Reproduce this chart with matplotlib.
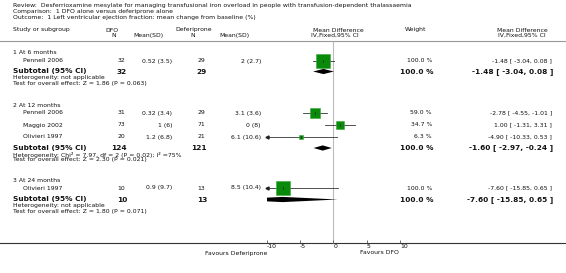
import numpy as np
import matplotlib
matplotlib.use("Agg")
import matplotlib.pyplot as plt

# ---- data -------------------------------------------------------------
review = "Review:  Desferrioxamine mesylate for managing transfusional iron overload in people with transfusion-dependent thalassaemia"
comparison = "Comparison:  1 DFO alone versus deferiprone alone"
outcome = "Outcome:  1 Left ventricular ejection fraction: mean change from baseline (%)"

groups = ["1 At 6 months", "2 At 12 months", "3 At 24 months"]

study_names = ["Pennell 2006", "Pennell 2006", "Maggio 2002", "Olivieri 1997", "Olivieri 1997"]
study_group = [0, 1, 1, 1, 2]
dfo_n = [32, 31, 73, 20, 10]
dfo_mean_sd = ["0.52 (3.5)", "0.32 (3.4)", "1 (6)", "1.2 (6.8)", "0.9 (9.7)"]
def_n = [29, 29, 71, 21, 13]
def_mean_sd = ["2 (2.7)", "3.1 (3.6)", "0 (8)", "6.1 (10.6)", "8.5 (10.4)"]
study_weight = [100.0, 59.0, 34.7, 6.3, 100.0]
study_md = [-1.48, -2.78, 1.00, -4.90, -7.60]
study_lo = [-3.04, -4.55, -1.31, -10.33, -15.85]
study_hi = [0.08, -1.01, 3.31, 0.53, 0.65]

sub_dfo_n = [32, 124, 10]
sub_def_n = [29, 121, 13]
sub_weight = [100.0, 100.0, 100.0]
sub_md = [-1.48, -1.60, -7.60]
sub_lo = [-3.04, -2.97, -15.85]
sub_hi = [0.08, -0.24, 0.65]
heterogeneity = ["Heterogeneity: not applicable",
                 "Heterogeneity: Chi\u00b2 = 7.97, df = 2 (P = 0.02); I\u00b2 =75%",
                 "Heterogeneity: not applicable"]
overall_effect = ["Test for overall effect: Z = 1.86 (P = 0.063)",
                  "Test for overall effect: Z = 2.30 (P = 0.021)",
                  "Test for overall effect: Z = 1.80 (P = 0.071)"]

axis_ticks = [-10, -5, 0, 5, 10]
axis_min, axis_max = -10, 10

# ---- layout (pixels) ----------------------------------------------------
W, H = 566, 273
x_lo_px, x_hi_px = 266.7, 400.0
head_y = [52.5, 105.5, 180.5]
study_y = [61, 113, 125, 137, 188]
sub_y = [71.5, 148, 199.5]
axis_y = 243
TXT = "#111111"
GREEN = "#0a8a0a"
fs = 4.4
fsb = 5.3

fig = plt.figure(figsize=(W / 100, H / 100), dpi=100)
fig.patch.set_facecolor("white")

ax = fig.add_axes([0, 0, 1, 1])
ax.set_xlim(0, W)
ax.set_ylim(H, 0)
ax.axis("off")


def t(x, y, s, ha="left", bold=False, size=None):
    ax.text(x, y, s, ha=ha, va="center", color=TXT,
            fontsize=size or (fsb if bold else fs),
            fontweight="bold" if bold else "normal")


# titles
t(13, 6, review)
t(13, 11.5, comparison)
t(13, 17, outcome)

# column headers
t(13, 30, "Study or subgroup")
t(112, 30, "DFO", ha="center")
t(114, 35.5, "N", ha="center")
t(148, 35.5, "Mean(SD)", ha="center")
t(194, 30, "Deferiprone", ha="center")
t(193, 35.5, "N", ha="center")
t(234, 35.5, "Mean(SD)", ha="center")
t(338, 30, "Mean Difference", ha="center")
t(335, 35.5, "IV,Fixed,95% CI", ha="center")
t(416, 30, "Weight", ha="center")
t(522, 30, "Mean Difference", ha="center")
t(522, 35.5, "IV,Fixed,95% CI", ha="center")
ax.plot([0, W], [41, 41], color="#999999", lw=0.8)

# text rows
for g, name in enumerate(groups):
    t(13, head_y[g], name)
for i, name in enumerate(study_names):
    y = study_y[i]
    t(23, y, name)
    t(125, y, str(dfo_n[i]), ha="right")
    t(172, y, dfo_mean_sd[i], ha="right")
    t(205, y, str(def_n[i]), ha="right")
    t(261, y, def_mean_sd[i], ha="right")
    t(432, y, f"{study_weight[i]:.1f} %", ha="right")
    t(552, y, f"{study_md[i]:.2f} [ {study_lo[i]:.2f}, {study_hi[i]:.2f} ]", ha="right")
for g in range(len(groups)):
    y = sub_y[g]
    t(13, y, "Subtotal (95% CI)", bold=True)
    t(127, y, str(sub_dfo_n[g]), ha="right", bold=True)
    t(207, y, str(sub_def_n[g]), ha="right", bold=True)
    t(433, y, f"{sub_weight[g]:.1f} %", ha="right", bold=True)
    t(553, y, f"{sub_md[g]:.2f} [ {sub_lo[g]:.2f}, {sub_hi[g]:.2f} ]", ha="right", bold=True)
    t(13, y + 6.5, heterogeneity[g])
    t(13, y + 12, overall_effect[g])

# bottom axis line across the figure
ax.plot([0, W], [axis_y, axis_y], color="#333333", lw=0.8)
t(267, 253, "Favours Deferiprone", ha="right")
t(399, 253, "Favours DFO", ha="right")

# ---- forest panel -------------------------------------------------------
axf = fig.add_axes([x_lo_px / W, 0, (x_hi_px - x_lo_px) / W, 1])
axf.set_xlim(axis_min, axis_max)
axf.set_ylim(H, 0)
axf.patch.set_visible(False)
for side in ["top", "left", "right"]:
    axf.spines[side].set_visible(False)
axf.spines["bottom"].set_position(("data", axis_y))
axf.spines["bottom"].set_visible(False)
axf.set_yticks([])
axf.set_xticks(axis_ticks)
axf.set_xticklabels([str(v) for v in axis_ticks])
axf.tick_params(axis="x", direction="in", length=2, width=0.6, color="#555555",
                labelsize=fs, labelcolor=TXT, pad=1)
for lab in axf.get_xticklabels():
    lab.set_horizontalalignment("left")

axf.vlines(0, 41, axis_y, color="#bbbbbb", lw=0.8, zorder=1)

for i in range(len(study_names)):
    y = study_y[i]
    lo = max(study_lo[i], axis_min)
    hi = min(study_hi[i], axis_max)
    axf.plot([lo, hi], [y, y], color="#333333", lw=0.6, zorder=2)
    if study_lo[i] < axis_min:
        axf.plot(axis_min, y, marker="<", ms=2.2, color="#222222", clip_on=False, zorder=3)
    ms = 9.4 * np.sqrt(study_weight[i] / 100)
    axf.plot(study_md[i], y, marker="s", ms=ms, color=GREEN,
             mec="#3aa83a", mew=0.4, zorder=3)
    axf.plot([study_md[i], study_md[i]], [y - 1.2, y + 1.2], color="#222222", lw=0.5, zorder=4)

for g in range(len(groups)):
    y = sub_y[g]
    axf.fill([sub_lo[g], sub_md[g], sub_hi[g], sub_md[g]],
             [y, y - 2.6, y, y + 2.6], color="black", lw=0, zorder=3)

fig.savefig("out.png", dpi=100)
